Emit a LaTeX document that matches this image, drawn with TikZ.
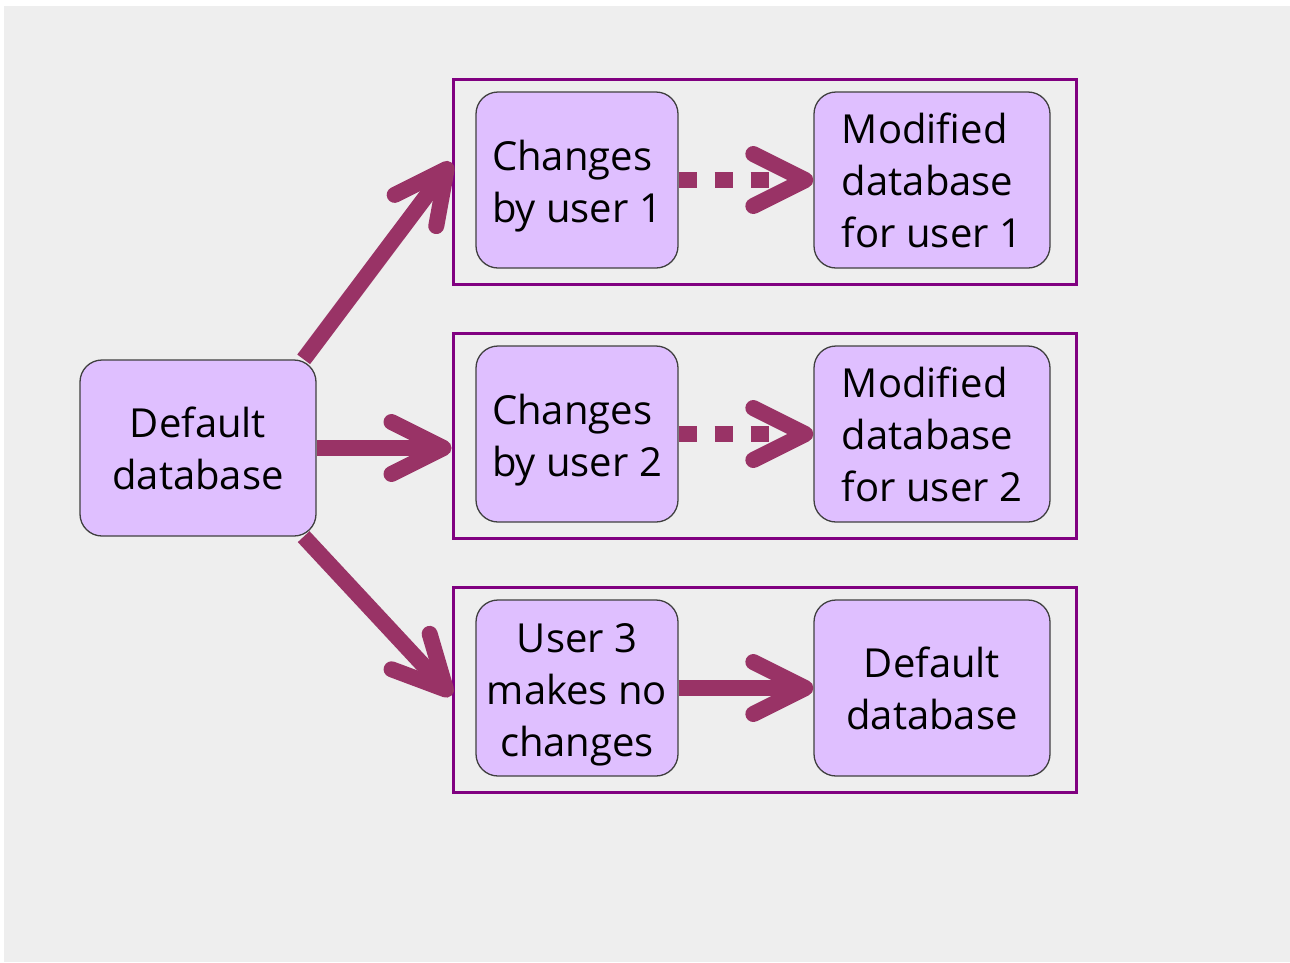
\documentclass[tikz,border=0pt]{standalone}
\usepackage{fontspec}
\setmainfont{Open Sans}
\usetikzlibrary{arrows.meta}
\definecolor{boxfill}{RGB}{223,191,255}
\definecolor{linkcol}{RGB}{153,51,102}
\definecolor{grpline}{RGB}{128,0,128}
\definecolor{bggray}{RGB}{238,238,238}
\newcommand{\topstrut}{\rule{0pt}{43pt}}
\begin{document}
\begin{tikzpicture}[x=1pt,y=-1pt,
    dbbox/.style={draw=black!75,line width=1.3pt,fill=boxfill,rounded corners=22pt,
      inner sep=0pt,minimum height=176pt,font=\fontsize{40pt}{52pt}\selectfont},
    group/.style={draw=grpline,line width=3pt,minimum width=623pt,minimum height=205pt,inner sep=0pt},
    link/.style={linkcol,line width=16pt,-{Straight Barb[round,length=52pt,width=52pt]}},
    dotlink/.style={link,dash pattern=on 18pt off 18pt}]
    \useasboundingbox (0,0) rectangle (1290,962);
    \fill[bggray] (4,6) rectangle (1290,962);
    \node[group] (g1) at (764.5, 181.5) {};
    \node[group] (g2) at (764.5, 435.5) {};
    \node[group] (g3) at (764.5, 689.5) {};
    \node[dbbox,minimum width=236pt,align=center] (dflt) at (198, 448) {Default\\database};
    \node[dbbox,minimum width=202pt,align=left] (c1) at (577, 180) {\topstrut Changes\\by user 1};
    \node[dbbox,minimum width=236pt,align=left] (m1) at (932, 180) {Modified\\database\\for user 1};
    \node[dbbox,minimum width=202pt,align=left] (c2) at (577, 434) {\topstrut Changes\\by user 2};
    \node[dbbox,minimum width=236pt,align=left] (m2) at (932, 434) {Modified\\database\\for user 2};
    \node[dbbox,minimum width=202pt,align=center] (c3) at (577, 688) {\topstrut User 3\\makes no\\changes};
    \node[dbbox,minimum width=236pt,align=center] (d3) at (932, 688) {Default\\database};
    \draw [link] (dflt.40) to ([yshift=19pt]g1.west);
    \draw [link] (dflt.east) to (dflt.east -| g2.west);
    \draw [link] (dflt.-40) to ([yshift=-6pt]g3.west);
    \draw [dotlink] (c1) to (m1);
    \draw [dotlink] (c2) to (m2);
    \draw [link] (c3) to (d3);
\end{tikzpicture}
\end{document}
